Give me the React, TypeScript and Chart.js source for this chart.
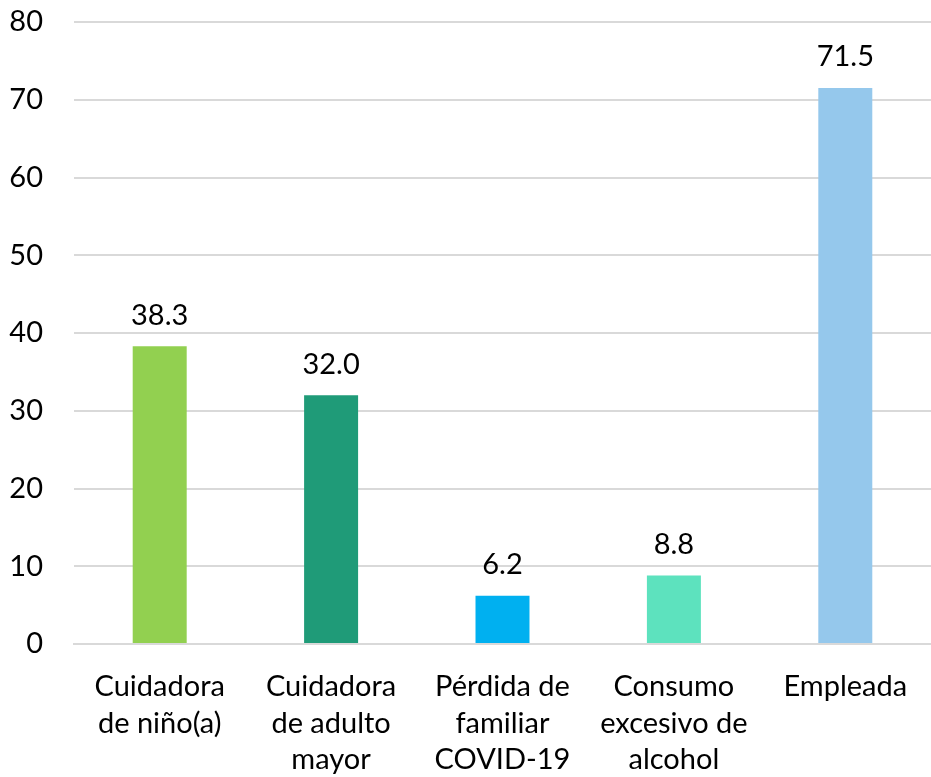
import React, { useEffect, useRef } from "react";
import { Chart, registerables } from "chart.js";

Chart.register(...registerables);

const categories: string[][] = [
  ["Cuidadora", "de niño(a)"],
  ["Cuidadora", "de adulto", "mayor"],
  ["Pérdida de", "familiar", "COVID-19"],
  ["Consumo", "excesivo de", "alcohol"],
  ["Empleada"],
];
const values: number[] = [38.3, 32.0, 6.2, 8.8, 71.5];
const barColors: string[] = ["#92D050", "#1F9B78", "#00B0F0", "#5DE2BE", "#95C8EC"];
const yTicks = { min: 0, max: 80, step: 10 };

const FONT = "Lato, 'Open Sans', sans-serif";
const FONT_SIZE = 29;

const valueLabels = {
  id: "valueLabels",
  afterDatasetsDraw(chart: any) {
    const ctx = chart.ctx;
    const meta = chart.getDatasetMeta(0);
    ctx.save();
    ctx.fillStyle = "#000";
    ctx.font = `${FONT_SIZE}px ${FONT}`;
    ctx.textAlign = "center";
    ctx.textBaseline = "middle";
    meta.data.forEach((bar: any, i: number) => {
      ctx.fillText(values[i].toFixed(1), bar.x, bar.y - 31);
    });
    ctx.restore();
  },
};

export default function App() {
  const ref = useRef<HTMLCanvasElement>(null);
  useEffect(() => {
    if (!ref.current) return;
    const chart = new Chart(ref.current, {
      type: "bar",
      data: {
        labels: categories,
        datasets: [
          {
            data: values,
            backgroundColor: barColors,
            barPercentage: 0.315,
            categoryPercentage: 1,
          },
        ],
      },
      plugins: [valueLabels],
      options: {
        animation: false,
        responsive: false,
        maintainAspectRatio: false,
        layout: { padding: { top: 22, right: 0, bottom: 0, left: 0 } },
        plugins: { legend: { display: false }, tooltip: { enabled: false } },
        scales: {
          x: {
            afterFit: (s: any) => {
              s.height = 133;
              s.paddingLeft = 0;
              s.paddingRight = 0;
              s.paddingTop = 0;
              s.paddingBottom = 0;
            },
            grid: { display: false, drawTicks: false },
            border: { display: true, color: "#d9d9d9", width: 2 },
            ticks: {
              color: "#000",
              font: { family: FONT, size: FONT_SIZE, lineHeight: 1.25 },
              padding: 25,
              maxRotation: 0,
              autoSkip: false,
            },
          },
          y: {
            min: yTicks.min,
            max: yTicks.max,
            afterFit: (s: any) => {
              s.width = 74;
              s.paddingTop = 0;
              s.paddingBottom = 0;
              s.paddingLeft = 0;
              s.paddingRight = 0;
            },
            grid: { color: "#d9d9d9", lineWidth: 2, drawTicks: false },
            border: { display: false },
            ticks: {
              stepSize: yTicks.step,
              color: "#000",
              font: { family: FONT, size: FONT_SIZE },
              padding: 31,
            },
          },
        },
      },
    });
    return () => chart.destroy();
  }, []);
  return (
    <div style={{ position: "absolute", left: 0, top: 0, width: 931, height: 777, background: "#fff" }}>
      <canvas ref={ref} width={931} height={777} style={{ display: "block" }} />
    </div>
  );
}
